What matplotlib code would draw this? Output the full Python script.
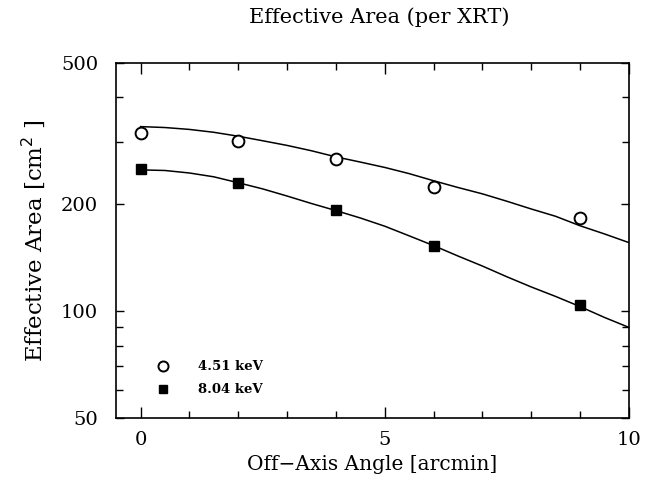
import numpy as np
from matplotlib import pyplot as plt
from matplotlib.ticker import FixedLocator, NullFormatter, MultipleLocator

# measured points
angle = [0, 2, 4, 6, 9]
area_451 = [317, 301, 268, 224, 183]
area_804 = [252, 230, 193, 153, 104]

# model curves
model_angle = [0, 0.5, 1, 1.5, 2, 2.5, 3, 3.5, 4, 4.5, 5, 5.5, 6, 6.5, 7, 7.5, 8, 8.5, 9, 9.5, 10]
model_451 = [331, 329, 325, 319, 311, 302, 293, 283, 272, 263, 254, 244, 233, 223, 214, 204, 194, 185, 174, 165, 156]
model_804 = [250, 249, 245, 239, 230, 221, 211, 201, 192, 183, 173.5, 163, 153, 143, 134, 125, 117, 110, 103, 96, 90]

y_ticks = [50, 100, 200, 500]
y_minor = [60, 70, 80, 90, 300, 400]

plt.rcParams['font.family'] = 'DejaVu Serif'

fig = plt.figure(figsize=(6.45, 4.78), dpi=100)
ax = fig.add_axes([0.180, 0.1255, 0.795, 0.7427])

ax.plot(model_angle, model_451, color='black', lw=1.1)
ax.plot(model_angle, model_804, color='black', lw=1.1)
ax.plot(angle, area_451, 'o', mfc='white', mec='black', mew=1.4, ms=8.5, label='4.51 keV')
ax.plot(angle, area_804, 's', color='black', ms=6.5, label='8.04 keV')

ax.set_yscale('log')
ax.set_xlim(-0.5, 10)
ax.set_ylim(50, 500)
ax.yaxis.set_major_locator(FixedLocator(y_ticks))
ax.yaxis.set_minor_locator(FixedLocator(y_minor))
ax.yaxis.set_major_formatter(plt.FixedFormatter([str(v) for v in y_ticks]))
ax.yaxis.set_minor_formatter(NullFormatter())
ax.xaxis.set_major_locator(MultipleLocator(5))
ax.xaxis.set_minor_locator(MultipleLocator(1))

ax.tick_params(which='both', direction='in', top=True, right=True, width=1.0)
ax.tick_params(which='major', length=8, labelsize=14, pad=9)
ax.tick_params(which='minor', length=5)
ax.tick_params(axis='y', which='major', length=6, pad=13)
for s in ax.spines.values():
    s.set_linewidth(1.2)

ax.set_xlabel('Off\u2212Axis Angle [arcmin]', fontsize=14.5, labelpad=5)
ax.set_ylabel('Effective Area [cm$^2$ ]', fontsize=16.5, labelpad=10)
title = ax.set_title('Effective Area (per XRT)', fontsize=15, pad=29)
title.set_x(0.513)

ax.legend(loc='center left', bbox_to_anchor=(0.055, 0.112), frameon=False,
          prop={'size': 9.5, 'weight': 'bold'}, handletextpad=1.7, labelspacing=0.75,
          borderaxespad=0, markerscale=0.85)

fig.savefig('out.png', dpi=100)
